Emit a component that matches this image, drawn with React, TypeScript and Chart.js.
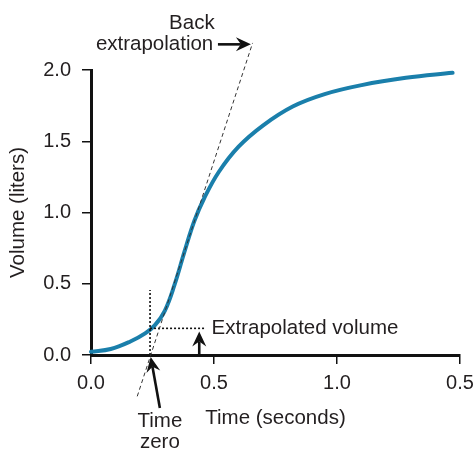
import React, { useEffect, useRef } from "react";
import { Chart, registerables } from "chart.js";

Chart.register(...registerables);

// ---- data ----
const curveX = [0, 0.08, 0.16, 0.22, 0.26, 0.3, 0.34, 0.38, 0.42, 0.46, 0.52, 0.6, 0.7, 0.82, 0.95, 1.1, 1.28, 1.47];
const curveY = [0.023, 0.042, 0.095, 0.152, 0.21, 0.31, 0.495, 0.725, 0.94, 1.1, 1.286, 1.462, 1.612, 1.744, 1.831, 1.894, 1.945, 1.98];

const backLineX = [0.188, 0.657];
const backLineY = [-0.29, 2.19];

const timeZeroX = 0.24;
const extrapVolume = 0.187;
const vLineY = [0, 0.456];
const hLineX = [0.24, 0.46];

const xTickValues = [0, 0.5, 1.0, 1.5];
const xTickLabels = ["0.0", "0.5", "1.0", "0.5"];
const yTickValues = [0, 0.5, 1.0, 1.5, 2.0];
const yTickLabels = ["0.0", "0.5", "1.0", "1.5", "2.0"];

// annotation arrows [x0, y0, x1, y1] in data units (tail -> head)
const arrowBack = [0.516, 2.18, 0.65, 2.18];
const arrowTimeZero = [0.28, -0.372, 0.2427, -0.014];
const arrowVolume = [0.44, 0.0, 0.44, 0.165];

// annotation texts
const textLabels: { text: string; x: number; y: number; align: CanvasTextAlign }[] = [
  { text: "Back", x: 0.41, y: 2.33, align: "center" },
  { text: "extrapolation", x: 0.497, y: 2.18, align: "right" },
  { text: "Extrapolated volume", x: 0.49, y: 0.19, align: "left" },
  { text: "Time", x: 0.28, y: -0.463, align: "center" },
  { text: "zero", x: 0.28, y: -0.61, align: "center" },
];

const FONT = '"Liberation Sans", Arial, Helvetica, sans-serif';
const TEXT = "#231f20";
const BLUE = "#1a7fab";

function drawArrow(ctx: CanvasRenderingContext2D, x0: number, y0: number, x1: number, y1: number) {
  const ang = Math.atan2(y1 - y0, x1 - x0);
  const headLen = 15;
  const headW = 7;
  const notch = 5;
  ctx.save();
  ctx.strokeStyle = "#111";
  ctx.fillStyle = "#111";
  ctx.lineWidth = 2.6;
  ctx.beginPath();
  ctx.moveTo(x0, y0);
  ctx.lineTo(x1 - Math.cos(ang) * (headLen - notch), y1 - Math.sin(ang) * (headLen - notch));
  ctx.stroke();
  ctx.translate(x1, y1);
  ctx.rotate(ang);
  ctx.beginPath();
  ctx.moveTo(0, 0);
  ctx.lineTo(-headLen, -headW);
  ctx.lineTo(-headLen + notch, 0);
  ctx.lineTo(-headLen, headW);
  ctx.closePath();
  ctx.fill();
  ctx.restore();
}

const annotationPlugin = {
  id: "annot",
  afterDatasetsDraw(chart: any) {
    const ctx: CanvasRenderingContext2D = chart.ctx;
    const xs = chart.scales.x;
    const ys = chart.scales.y;
    const px = (v: number) => xs.getPixelForValue(v);
    const py = (v: number) => ys.getPixelForValue(v);
    [arrowBack, arrowTimeZero, arrowVolume].forEach((a) => drawArrow(ctx, px(a[0]), py(a[1]), px(a[2]), py(a[3])));
    ctx.save();
    ctx.fillStyle = TEXT;
    ctx.font = `20.5px ${FONT}`;
    ctx.textBaseline = "middle";
    textLabels.forEach((t) => {
      ctx.textAlign = t.align;
      ctx.fillText(t.text, px(t.x), py(t.y));
    });
    ctx.restore();
  },
};

export default function App() {
  const ref = useRef<HTMLCanvasElement | null>(null);
  useEffect(() => {
    if (!ref.current) return;
    const chart = new Chart(ref.current, {
      type: "scatter",
      data: {
        datasets: [
          {
            data: backLineX.map((x, i) => ({ x, y: backLineY[i] })),
            showLine: true,
            borderColor: "#333",
            borderWidth: 1,
            borderDash: [4, 3],
            pointRadius: 0,
            clip: false as any,
          },
          {
            data: vLineY.map((y) => ({ x: timeZeroX, y })),
            showLine: true,
            borderColor: "#111",
            borderWidth: 1.6,
            borderDash: [2, 2],
            pointRadius: 0,
            clip: false as any,
          },
          {
            data: hLineX.map((x) => ({ x, y: extrapVolume })),
            showLine: true,
            borderColor: "#111",
            borderWidth: 1.6,
            borderDash: [2, 2],
            pointRadius: 0,
            clip: false as any,
          },
          {
            data: curveX.map((x, i) => ({ x, y: curveY[i] })),
            showLine: true,
            borderColor: BLUE,
            borderWidth: 4,
            tension: 0.4,
            pointRadius: 0,
            borderCapStyle: "round",
            clip: false as any,
          },
        ],
      },
      options: {
        animation: false,
        responsive: true,
        maintainAspectRatio: false,
        layout: { padding: { top: 70, right: 16, left: 0, bottom: 0 } },
        plugins: { legend: { display: false }, tooltip: { enabled: false } },
        scales: {
          x: {
            type: "linear",
            min: 0,
            max: 1.5,
            afterBuildTicks: (s: any) => {
              s.ticks = xTickValues.map((v) => ({ value: v }));
            },
            afterFit: (s: any) => {
              s.height = 96;
              s.paddingRight = 0;
              s.paddingLeft = 0;
            },
            ticks: {
              callback: (_v: any, i: number) => xTickLabels[i],
              color: TEXT,
              font: { family: FONT, size: 20 },
              padding: 7,
              maxRotation: 0,
            },
            grid: { drawOnChartArea: false, drawTicks: true, tickLength: 9, color: "#111", lineWidth: 1.5 },
            border: { display: true, color: "#111", width: 3 },
            title: {
              display: true,
              text: "Time (seconds)",
              color: TEXT,
              font: { family: FONT, size: 20.5 },
              padding: { top: 0, bottom: 20 },
            },
          },
          y: {
            type: "linear",
            min: 0,
            max: 2,
            afterBuildTicks: (s: any) => {
              s.ticks = yTickValues.map((v) => ({ value: v }));
            },
            afterFit: (s: any) => {
              s.width = 91;
              s.paddingTop = 0;
              s.paddingBottom = 0;
            },
            ticks: {
              callback: (_v: any, i: number) => yTickLabels[i],
              color: TEXT,
              font: { family: FONT, size: 20 },
              padding: 11,
            },
            grid: { drawOnChartArea: false, drawTicks: true, tickLength: 9, color: "#111", lineWidth: 1.5 },
            border: { display: true, color: "#111", width: 3 },
            title: {
              display: true,
              text: "Volume (liters)",
              color: TEXT,
              font: { family: FONT, size: 20.5 },
              padding: { top: 6, bottom: 0 },
            },
          },
        },
      },
      plugins: [annotationPlugin],
    });
    return () => chart.destroy();
  }, []);
  return (
    <div style={{ position: "fixed", left: 0, top: 0, width: 476, height: 451, background: "#fff" }}>
      <canvas ref={ref} />
    </div>
  );
}
